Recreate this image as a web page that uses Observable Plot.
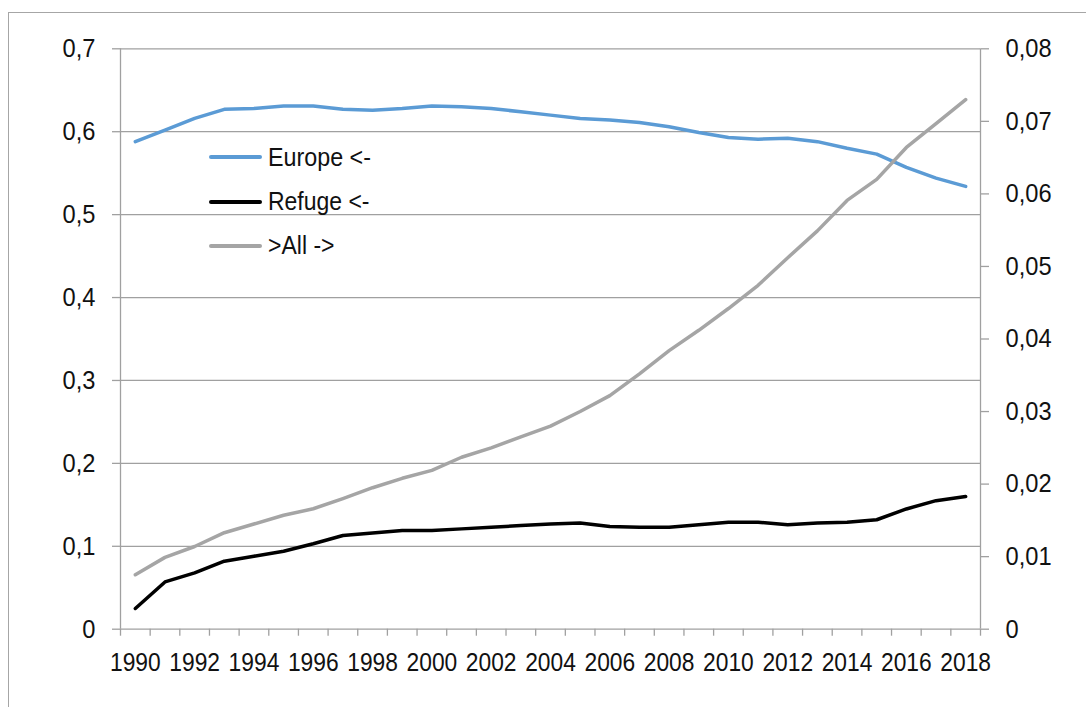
<!DOCTYPE html>
<html><head><meta charset="utf-8">
<script src="https://cdn.jsdelivr.net/npm/d3@7"></script>
<script src="https://cdn.jsdelivr.net/npm/@observablehq/plot@0.6"></script>
<style>
html,body{margin:0;padding:0;background:#fff;}
#wrap{position:relative;width:1086px;height:707px;overflow:hidden;font-family:"Liberation Sans",Arial,sans-serif;}
#border{position:absolute;left:8px;top:12px;width:2000px;height:2000px;border-left:1px solid #a6a6a6;border-top:1px solid #a6a6a6;}
#chart{position:absolute;left:0;top:0;}
#legend{position:absolute;left:209px;top:135.2px;}
.item{display:flex;align-items:center;height:44.3px;}
.sw{width:53px;height:4px;border-radius:2px;margin-right:5.5px;flex:none;}
.lab{font-size:25px;color:#111;white-space:nowrap;display:inline-block;transform-origin:left center;}
</style></head>
<body>
<div id="wrap">
  <div id="border"></div>
  <div id="chart"></div>
  <div id="legend"></div>
</div>
<script>
const years = [1990,1991,1992,1993,1994,1995,1996,1997,1998,1999,2000,2001,2002,2003,2004,2005,2006,2007,2008,2009,2010,2011,2012,2013,2014,2015,2016,2017,2018];
const europe = [0.588,0.602,0.616,0.627,0.628,0.631,0.631,0.627,0.626,0.628,0.631,0.630,0.628,0.624,0.620,0.616,0.614,0.611,0.606,0.599,0.593,0.591,0.592,0.588,0.580,0.573,0.557,0.544,0.534];
const refuge = [0.025,0.057,0.068,0.082,0.088,0.094,0.103,0.113,0.116,0.119,0.119,0.121,0.123,0.125,0.127,0.128,0.124,0.123,0.123,0.126,0.129,0.129,0.126,0.128,0.129,0.132,0.145,0.155,0.160];
const allSeries = [0.0075,0.0099,0.0114,0.0133,0.0145,0.0157,0.0166,0.0180,0.0195,0.0208,0.0219,0.0237,0.0250,0.0265,0.0280,0.0300,0.0322,0.0352,0.0384,0.0412,0.0442,0.0474,0.0512,0.0549,0.0591,0.0620,0.0664,0.0697,0.0730];
const leftTicks = [0,0.1,0.2,0.3,0.4,0.5,0.6,0.7];
const rightTicks = [0,0.01,0.02,0.03,0.04,0.05,0.06,0.07,0.08];
const labelYears = [1990,1992,1994,1996,1998,2000,2002,2004,2006,2008,2010,2012,2014,2016,2018];
const seriesNames = ["Europe <-","Refuge <-",">All ->"];
const seriesColors = ["#5b9bd5","#000000","#a5a5a5"];

const leftMax = 0.7, rightMax = 0.08;
const k = leftMax / rightMax;
const rows = years.map((yr, i) => ({year: yr, europe: europe[i], refuge: refuge[i], all: allSeries[i] * k}));
const boundaries = years.map(y => y - 0.5).concat([years[years.length - 1] + 0.5]);
const fmt = v => String(v).replace(".", ",");
const grid = "#a0a0a0";
const font = '"Liberation Sans",Arial,sans-serif';

const chart = Plot.plot({
  width: 1086, height: 707,
  marginLeft: 120, marginRight: 106, marginTop: 48.3, marginBottom: 78.3,
  x: {domain: [boundaries[0], boundaries[boundaries.length - 1]]},
  y: {domain: [0, leftMax]},
  style: {fontFamily: font, fontSize: "26px", color: "#111", background: "transparent", overflow: "visible"},
  marks: [
    Plot.ruleY(leftTicks, {stroke: grid, strokeWidth: 1.3}),
    Plot.ruleX([boundaries[0], boundaries[boundaries.length - 1]], {stroke: grid, strokeWidth: 1.3}),
    Plot.axisY({anchor: "left", ticks: leftTicks, tickSize: 8, tickPadding: 17, tickFormat: fmt, stroke: grid, strokeWidth: 1.3, label: null}),
    Plot.axisY({anchor: "right", ticks: rightTicks.map(t => t * k), tickSize: 8, tickPadding: 17, tickFormat: d => fmt(+(d / k).toFixed(2)), stroke: grid, strokeWidth: 1.3, label: null}),
    Plot.axisX({ticks: boundaries, tickSize: 7, tickFormat: () => "", stroke: grid, strokeWidth: 1.3, label: null}),
    Plot.axisX({ticks: labelYears, tickSize: 0, tickPadding: 23, tickFormat: d => String(d), label: null}),
    Plot.line(rows, {x: "year", y: "europe", stroke: seriesColors[0], strokeWidth: 3.5, strokeLinejoin: "round", strokeLinecap: "round"}),
    Plot.line(rows, {x: "year", y: "refuge", stroke: seriesColors[1], strokeWidth: 3.5, strokeLinejoin: "round", strokeLinecap: "round"}),
    Plot.line(rows, {x: "year", y: "all", stroke: seriesColors[2], strokeWidth: 3.5, strokeLinejoin: "round", strokeLinecap: "round"})
  ]
});
document.getElementById("chart").appendChild(chart);

// condense the tick labels to match the narrow typeface of the original
chart.querySelectorAll("text").forEach(t => {
  const s = t.textContent;
  if (!s) return;
  const w = t.getComputedTextLength();
  const f = /^\d{4}$/.test(s) ? 0.877 : 0.91;
  t.setAttribute("textLength", (w * f).toFixed(2));
  t.setAttribute("lengthAdjust", "spacingAndGlyphs");
});

const legendWidths = [103, 101.5, 66.5];
const legend = document.getElementById("legend");
seriesNames.forEach((name, i) => {
  const item = document.createElement("div");
  item.className = "item";
  const sw = document.createElement("div");
  sw.className = "sw";
  sw.style.background = seriesColors[i];
  const lab = document.createElement("span");
  lab.className = "lab";
  lab.textContent = name;
  item.appendChild(sw);
  item.appendChild(lab);
  legend.appendChild(item);
  const w = lab.getBoundingClientRect().width;
  lab.style.transform = `scaleX(${(legendWidths[i] / w).toFixed(4)})`;
});
</script>
</body></html>
